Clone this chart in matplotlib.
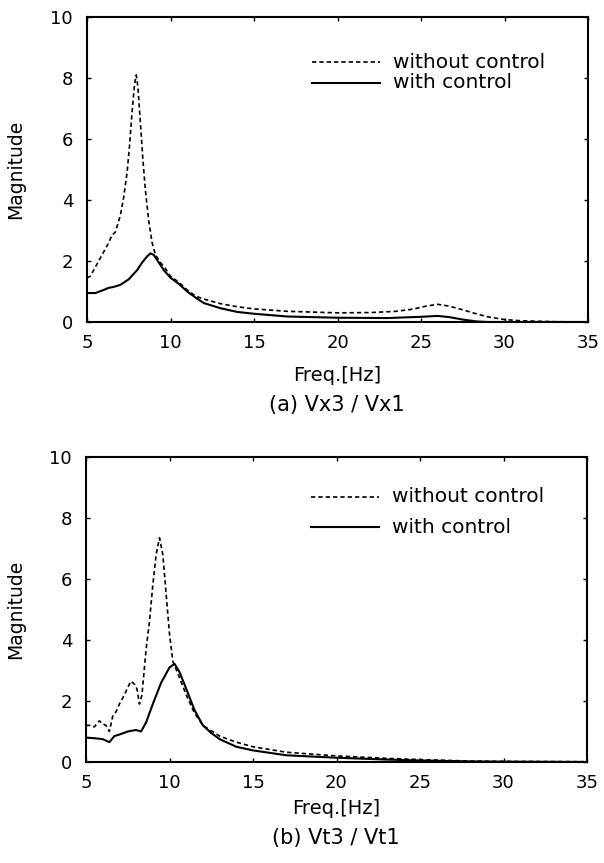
import matplotlib
matplotlib.use("Agg")
import matplotlib.pyplot as plt

plt.rcParams['font.family'] = ['DejaVu Sans']

# ---- Panel (a) Vx3 / Vx1 ----
fa_wo = [5.0, 5.2, 5.5, 5.8, 6.0, 6.3, 6.5, 6.7, 7.0, 7.2, 7.4, 7.55, 7.7, 7.85, 7.95, 8.05, 8.2, 8.35, 8.5,
         8.7, 8.9, 9.1, 9.4, 9.7, 10.0, 10.5, 11.0, 11.5, 12.0, 13.0, 14.0, 15.0, 17.0, 20.0, 22.0,
         23.5, 24.5, 25.3, 26.0, 26.7, 27.5, 28.3, 29.0, 30.0, 31.0, 33.0, 35.0]
ma_wo = [1.45, 1.5, 1.8, 2.1, 2.3, 2.6, 2.85, 2.95, 3.5, 4.1, 4.9, 5.8, 6.9, 7.8, 8.1, 7.7, 6.5, 5.3, 4.3,
         3.3, 2.6, 2.2, 1.95, 1.75, 1.5, 1.3, 1.05, 0.85, 0.75, 0.6, 0.5, 0.43, 0.35, 0.3, 0.31,
         0.35, 0.42, 0.52, 0.58, 0.52, 0.4, 0.27, 0.17, 0.08, 0.04, 0.01, 0.0]
fa_w = [5.0, 5.5, 6.0, 6.3, 6.6, 7.0, 7.5, 8.0, 8.3, 8.6, 8.8, 9.0, 9.3, 9.6, 10.0, 10.5, 11.0, 11.5,
        12.0, 13.0, 14.0, 15.0, 17.0, 20.0, 23.0, 25.0, 26.0, 26.7, 27.5, 28.3, 29.0, 35.0]
ma_w = [0.95, 0.95, 1.05, 1.12, 1.15, 1.22, 1.4, 1.7, 1.95, 2.15, 2.25, 2.2, 1.95, 1.7, 1.45, 1.25, 1.0,
        0.8, 0.62, 0.45, 0.33, 0.27, 0.18, 0.14, 0.13, 0.17, 0.2, 0.16, 0.08, 0.02, 0.0, 0.0]

# ---- Panel (b) Vt3 / Vt1 ----
fb_wo = [5.0, 5.3, 5.5, 5.8, 6.0, 6.2, 6.4, 6.6, 6.8, 7.0, 7.3, 7.5, 7.7, 7.9, 8.05, 8.2, 8.35, 8.6,
         8.8, 9.0, 9.2, 9.4, 9.6, 9.8, 10.0, 10.2, 10.5, 11.0, 11.5, 12.0, 13.0, 14.0, 15.0, 17.0,
         20.0, 23.0, 25.0, 28.0, 30.0, 35.0]
mb_wo = [1.2, 1.2, 1.15, 1.35, 1.25, 1.2, 1.0, 1.5, 1.65, 1.9, 2.2, 2.45, 2.65, 2.55, 2.4, 1.9, 2.2, 3.7,
         4.6, 5.8, 6.8, 7.35, 6.8, 5.5, 4.2, 3.3, 2.9, 2.2, 1.6, 1.2, 0.85, 0.65, 0.5, 0.32,
         0.2, 0.12, 0.08, 0.03, 0.02, 0.01]
fb_w = [5.0, 5.5, 6.0, 6.4, 6.7, 7.0, 7.5, 8.0, 8.3, 8.6, 9.0, 9.5, 10.0, 10.3, 10.6, 11.0, 11.5,
        12.0, 12.5, 13.0, 14.0, 15.0, 17.0, 20.0, 23.0, 25.0, 28.0, 30.0, 35.0]
mb_w = [0.8, 0.78, 0.75, 0.65, 0.85, 0.9, 1.0, 1.05, 1.0, 1.3, 1.9, 2.6, 3.1, 3.22, 2.95, 2.4, 1.7,
        1.2, 0.95, 0.75, 0.5, 0.38, 0.22, 0.14, 0.08, 0.05, 0.02, 0.01, 0.0]

xticks = [5, 10, 15, 20, 25, 30, 35]
yticks = [0, 2, 4, 6, 8, 10]
legend_labels = ["without control", "with control"]
xlabel = "Freq.[Hz]"
ylabel = "Magnitude"
captions = ["(a) Vx3 / Vx1", "(b) Vt3 / Vt1"]

W, H = 604, 863
fig = plt.figure(figsize=(W / 100, H / 100), dpi=100)

DASH = (0, (2.6, 1.8))

def px(x0, y0, x1, y1):
    return [x0 / W, 1 - y1 / H, (x1 - x0) / W, (y1 - y0) / H]

panels = [
    dict(rect=px(87, 17, 588, 322), wo=(fa_wo, ma_wo), w=(fa_w, ma_w),
         leg_y=(0.852, 0.784), xl_y=375, cap_y=405, yl_y=169, xc=337),
    dict(rect=px(86, 457, 587, 762), wo=(fb_wo, mb_wo), w=(fb_w, mb_w),
         leg_y=(0.87, 0.77), xl_y=808, cap_y=838, yl_y=609, xc=336),
]

for i, p in enumerate(panels):
    ax = fig.add_axes(p['rect'])
    ax.plot(*p['wo'], color='black', lw=1.2, ls=DASH)
    ax.plot(*p['w'], color='black', lw=1.5, ls='-')
    ax.set_xlim(5, 35)
    ax.set_ylim(0, 10)
    ax.set_xticks(xticks)
    ax.set_yticks(yticks)
    ax.tick_params(direction='in', length=3, width=1, top=True, right=True, labelsize=13)
    ax.tick_params(axis='x', pad=8.5)
    ax.tick_params(axis='y', pad=10)
    for s in ax.spines.values():
        s.set_linewidth(1.5)
    # legend drawn in axes coordinates
    ly1, ly2 = p['leg_y']
    ax.plot([0.449, 0.585], [ly1, ly1], transform=ax.transAxes, color='black', lw=1.2, ls=DASH)
    ax.plot([0.449, 0.585], [ly2, ly2], transform=ax.transAxes, color='black', lw=1.5)
    ax.text(0.61, ly1, legend_labels[0], transform=ax.transAxes, fontsize=14.5, va='center', ha='left')
    ax.text(0.61, ly2, legend_labels[1], transform=ax.transAxes, fontsize=14.5, va='center', ha='left')
    fig.text(p['xc'] / W, 1 - p['xl_y'] / H, xlabel, fontsize=14, ha='center', va='center')
    fig.text(p['xc'] / W, 1 - p['cap_y'] / H, captions[i], fontsize=15, ha='center', va='center')
    fig.text(16 / W, 1 - p['yl_y'] / H, ylabel, fontsize=13.5, ha='center', va='center', rotation=90)

fig.savefig("out.png", dpi=100)
